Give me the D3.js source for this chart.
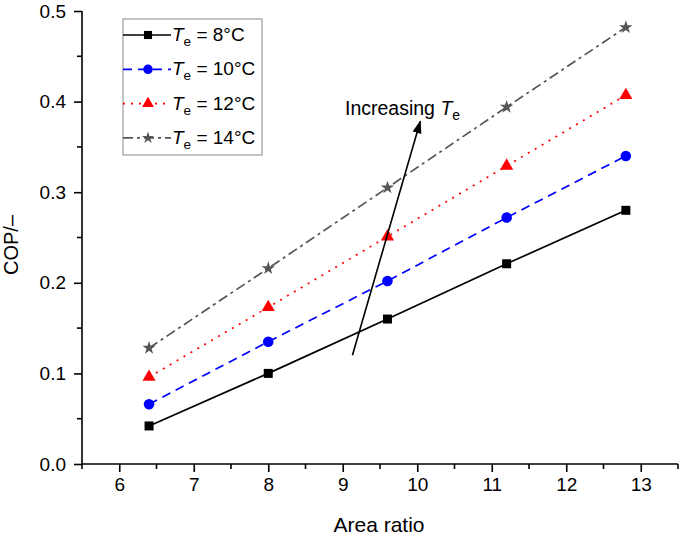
<!DOCTYPE html>
<html><head><meta charset="utf-8">
<script src="https://cdn.jsdelivr.net/npm/d3@7"></script>
<style>
html,body{margin:0;padding:0;background:#fff;}
svg text{font-family:"Liberation Sans",Arial,Helvetica,sans-serif;}
</style></head>
<body>
<svg id="chart" width="685" height="538"></svg>
<script>
const areaRatio = [6.4, 8, 9.6, 11.2, 12.8];
const cop8  = [0.042, 0.100, 0.160, 0.221, 0.280];
const cop10 = [0.066, 0.135, 0.202, 0.272, 0.340];
const cop12 = [0.096, 0.173, 0.251, 0.329, 0.407];
const cop14 = [0.128, 0.216, 0.305, 0.394, 0.482];
const seriesTemps = ["8", "10", "12", "14"];
const xTicks = [6, 7, 8, 9, 10, 11, 12, 13];
const yTicks = [0.0, 0.1, 0.2, 0.3, 0.4, 0.5];
const arrowStart = [9.13, 0.120];
const arrowEnd = [10.04, 0.378];

const series = [
  {temp: seriesTemps[0], values: cop8,  color: "#000000", dash: null,        marker: "square"},
  {temp: seriesTemps[1], values: cop10, color: "#0000ff", dash: "9,6",       marker: "circle"},
  {temp: seriesTemps[2], values: cop12, color: "#ff0000", dash: "2,6",       marker: "triangle"},
  {temp: seriesTemps[3], values: cop14, color: "#555555", dash: "10,4,3,4",  marker: "star"}
];

const svg = d3.select("#chart");
const x = d3.scaleLinear().domain([5.5, 13.5]).range([82, 678]);
const y = d3.scaleLinear().domain([0, 0.5]).range([464, 11]);

// Axes
const xMinor = d3.range(5.5, 13.51, 0.5).filter(v => Math.abs(v - Math.round(v)) > 0.01);
const yMinor = d3.range(0.05, 0.5, 0.1);

const gx = svg.append("g").attr("transform", "translate(0,464)");
gx.call(d3.axisBottom(x).tickValues(xTicks).tickFormat(d3.format("d")).tickSize(8).tickPadding(6))
  .call(g => g.select(".domain").attr("stroke", "#000").attr("stroke-width", 1.6).attr("d", "M82,0H678"));
gx.selectAll(".tick line").attr("stroke-width", 1.6);
gx.selectAll(".tick text").attr("font-size", 19).attr("fill", "#000");
gx.append("g").selectAll("line").data(xMinor).join("line")
  .attr("x1", d => x(d)).attr("x2", d => x(d)).attr("y1", 0).attr("y2", 5)
  .attr("stroke", "#000").attr("stroke-width", 1.6);

const gy = svg.append("g").attr("transform", "translate(82,0)");
gy.call(d3.axisLeft(y).tickValues(yTicks).tickFormat(d3.format(".1f")).tickSize(8).tickPadding(8))
  .call(g => g.select(".domain").attr("stroke", "#000").attr("stroke-width", 1.6).attr("d", "M0,464V11"));
gy.selectAll(".tick line").attr("stroke-width", 1.6);
gy.selectAll(".tick text").attr("font-size", 19).attr("fill", "#000");
gy.append("g").selectAll("line").data(yMinor).join("line")
  .attr("x1", 0).attr("x2", -5).attr("y1", d => y(d)).attr("y2", d => y(d))
  .attr("stroke", "#000").attr("stroke-width", 1.6);

// Axis titles
svg.append("text").attr("x", 379).attr("y", 532).attr("text-anchor", "middle")
  .attr("font-size", 21).text("Area ratio");
svg.append("text").attr("transform", "translate(18,245) rotate(-90)").attr("text-anchor", "middle")
  .attr("font-size", 20).text("COP/\u2013");

// Marker drawing
function drawMarker(g, type, cx, cy, color, scale) {
  const s = scale || 1;
  if (type === "square") {
    g.append("rect").attr("x", cx - 4.5*s).attr("y", cy - 4.5*s).attr("width", 9*s).attr("height", 9*s).attr("fill", color);
  } else if (type === "circle") {
    g.append("circle").attr("cx", cx).attr("cy", cy).attr("r", 5.3*s).attr("fill", color);
  } else if (type === "triangle") {
    g.append("path").attr("d", d3.symbol().type(d3.symbolTriangle).size(75*s*s)()).attr("transform", `translate(${cx},${cy})`).attr("fill", color);
  } else if (type === "star") {
    g.append("path").attr("d", d3.symbol().type(d3.symbolStar).size(55*s*s)()).attr("transform", `translate(${cx},${cy})`).attr("fill", color);
  }
}

const line = d3.line().x((d, i) => x(areaRatio[i])).y(d => y(d));
const plot = svg.append("g");
series.forEach(s => {
  plot.append("path").attr("d", line(s.values)).attr("fill", "none")
    .attr("stroke", s.color).attr("stroke-width", 1.7)
    .attr("stroke-dasharray", s.dash);
  s.values.forEach((v, i) => drawMarker(plot, s.marker, x(areaRatio[i]), y(v), s.color, 1));
});

// Arrow
svg.append("defs").append("marker").attr("id", "arrowhead")
  .attr("viewBox", "0 0 10 10").attr("refX", 9).attr("refY", 5)
  .attr("markerWidth", 13).attr("markerHeight", 13).attr("markerUnits", "userSpaceOnUse")
  .attr("orient", "auto")
  .append("path").attr("d", "M0,1.5L10,5L0,8.5Z").attr("fill", "#000");
svg.append("line")
  .attr("x1", x(arrowStart[0])).attr("y1", y(arrowStart[1]))
  .attr("x2", x(arrowEnd[0])).attr("y2", y(arrowEnd[1]))
  .attr("stroke", "#000").attr("stroke-width", 1.6)
  .attr("marker-end", "url(#arrowhead)");

const ann = svg.append("text").attr("x", 345).attr("y", 115).attr("font-size", 19.5);
ann.append("tspan").text("Increasing ");
ann.append("tspan").attr("font-style", "italic").text("T");
ann.append("tspan").attr("font-size", 14).attr("dy", 5).text("e");

// Legend
const lg = svg.append("g");
lg.append("rect").attr("x", 123).attr("y", 19).attr("width", 139).attr("height", 136)
  .attr("fill", "#fff").attr("stroke", "#888").attr("stroke-width", 1);
series.forEach((s, i) => {
  const cy = 35 + i * 34.3;
  lg.append("line").attr("x1", 123).attr("x2", 171).attr("y1", cy).attr("y2", cy)
    .attr("stroke", s.color).attr("stroke-width", 1.7).attr("stroke-dasharray", s.dash);
  drawMarker(lg, s.marker, 148, cy, s.color, 0.9);
  const t = lg.append("text").attr("x", 172).attr("y", cy + 6).attr("font-size", 19);
  t.append("tspan").attr("font-style", "italic").text("T");
  t.append("tspan").attr("font-size", 13.5).attr("dy", 5).text("e");
  t.append("tspan").attr("dy", -5).text(" = " + s.temp + "\u00b0C");
});
</script>
</body></html>
